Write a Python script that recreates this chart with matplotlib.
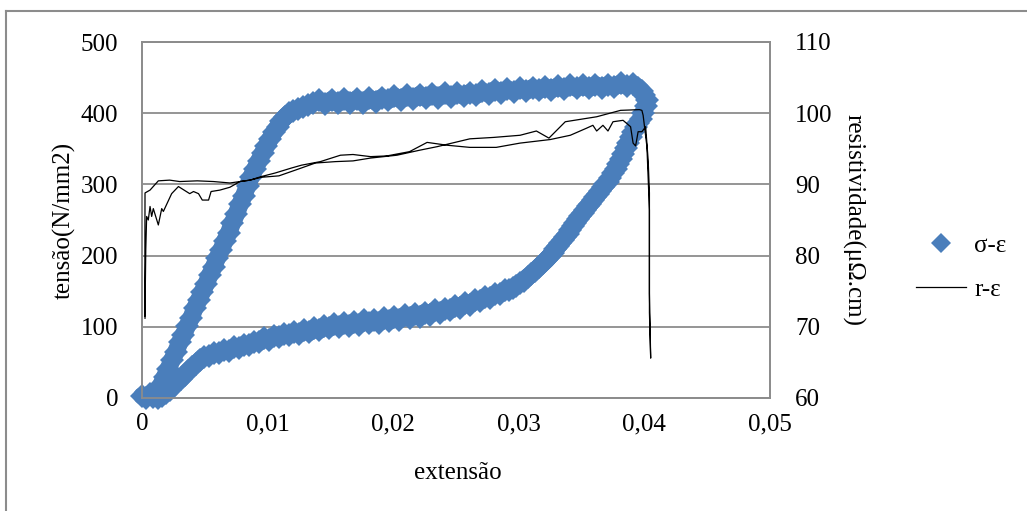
import matplotlib
matplotlib.use('Agg')
import matplotlib.pyplot as plt
from matplotlib.lines import Line2D
from matplotlib.ticker import FuncFormatter, MultipleLocator

plt.rcParams['font.family'] = ['Liberation Serif', 'DejaVu Serif']
plt.rcParams['font.size'] = 18

########################### dados: σ-ε (carga)
carga_x = [0.0000, 0.0003, 0.0006, 0.0009, 0.0012, 0.0015, 0.0018, 0.0021, 0.0024, 0.0027,
           0.0030, 0.0033, 0.0036, 0.0039, 0.0042, 0.0045, 0.0048, 0.0051, 0.0054, 0.0057,
           0.0060, 0.0063, 0.0066, 0.0069, 0.0072, 0.0075, 0.0078, 0.0081, 0.0084, 0.0087,
           0.0090, 0.0093, 0.0096, 0.0099, 0.0102, 0.0105, 0.0108, 0.0111, 0.0114, 0.0117,
           0.0120, 0.0124, 0.0128, 0.0132,
           0.0136, 0.0141, 0.0146, 0.0151, 0.0156, 0.0161, 0.0166, 0.0171, 0.0176, 0.0181,
           0.0186, 0.0191, 0.0196, 0.0201, 0.0206, 0.0211, 0.0216, 0.0221, 0.0226, 0.0231,
           0.0236, 0.0241, 0.0246, 0.0251, 0.0256, 0.0261, 0.0266, 0.0271, 0.0276, 0.0281,
           0.0286, 0.0291, 0.0296, 0.0301, 0.0306, 0.0311, 0.0316, 0.0321, 0.0326, 0.0331,
           0.0336, 0.0341, 0.0346, 0.0351, 0.0356, 0.0361, 0.0366, 0.0371, 0.0376, 0.0381,
           0.0386, 0.0391, 0.0395, 0.0398, 0.0400, 0.0402]
carga_s = [3, 0, 5, 2, 9, 18, 30, 41, 54, 65,
           78, 89, 101, 112, 126, 137, 149, 160, 173, 184,
           197, 208, 221, 232, 246, 258, 272, 284, 298, 311,
           322, 333, 344, 354, 364, 373, 381, 389, 395, 400,
           403, 406, 409, 411,
           414, 418, 413, 419, 414, 420, 415, 420, 415, 421,
           416, 422, 418, 424, 419, 425, 420, 426, 421, 427,
           422, 428, 423, 428, 424, 429, 425, 431, 427, 433,
           429, 434, 430, 435, 431, 436, 432, 437, 433, 438,
           434, 439, 435, 439, 435, 440, 436, 440, 437, 442,
           438, 441, 436, 431, 425, 418]

########################### dados: σ-ε (descarga)
descarga_x = [0.0401, 0.0399, 0.0397, 0.0395, 0.0393, 0.0391, 0.0389, 0.0387, 0.0385, 0.0383,
              0.0381, 0.0379, 0.0377, 0.0375, 0.0373, 0.0371, 0.0369, 0.0367, 0.0365, 0.0363,
              0.0361, 0.0359, 0.0357, 0.0355, 0.0353, 0.0351, 0.0349, 0.0347, 0.0345, 0.0343,
              0.0341, 0.0339, 0.0337, 0.0335, 0.0333, 0.0331, 0.0329, 0.0327, 0.0325, 0.0322,
              0.0319, 0.0316, 0.0313, 0.0310, 0.0307, 0.0304, 0.0301, 0.0298, 0.0295, 0.0292,
              0.0289, 0.0285, 0.0281, 0.0277, 0.0273, 0.0269, 0.0265, 0.0261, 0.0257, 0.0253,
              0.0249, 0.0245, 0.0241, 0.0237, 0.0233, 0.0229, 0.0225, 0.0221, 0.0217, 0.0213,
              0.0209, 0.0205, 0.0201, 0.0197, 0.0193, 0.0189, 0.0185, 0.0181, 0.0177, 0.0173,
              0.0169, 0.0165, 0.0161, 0.0157, 0.0153, 0.0149, 0.0145, 0.0141, 0.0137, 0.0133,
              0.0129, 0.0125, 0.0121, 0.0117, 0.0113, 0.0109, 0.0105, 0.0101, 0.0097, 0.0093,
              0.0089, 0.0085, 0.0081, 0.0077, 0.0073, 0.0069, 0.0065, 0.0061, 0.0057, 0.0053,
              0.0049, 0.0046, 0.0043, 0.0040, 0.0037, 0.0034, 0.0031, 0.0028, 0.0025, 0.0022,
              0.0019, 0.0016, 0.0013]
descarga_s = [410, 400, 392, 386, 380, 373, 366, 358, 351, 342,
              335, 328, 321, 316, 309, 304, 300, 296, 291, 287,
              282, 278, 273, 269, 264, 260, 255, 251, 246, 241,
              236, 231, 226, 222, 217, 213, 209, 204, 200, 194,
              189, 184, 179, 174, 170, 165, 162, 158, 155, 152,
              151, 146, 146, 141, 142, 136, 137, 131, 133, 127,
              129, 123, 125, 120, 123, 117, 120, 114, 118, 112,
              116, 110, 114, 108, 112, 106, 110, 105, 109, 103,
              107, 101, 105, 100, 104, 98, 101, 95, 98, 92,
              95, 90, 93, 88, 90, 85, 87, 82, 84, 78,
              79, 74, 75, 70, 71, 66, 67, 63, 63, 59,
              58, 53, 48, 43, 38, 33, 27, 22, 17, 11,
              7, 3, 0]

########################### dados: r-ε (ida e volta)
r_x = [0.00024, 0.00026, 0.00030, 0.00037, 0.00050, 0.00064, 0.00077, 0.00090, 0.00130, 0.00157,
       0.00170, 0.00236, 0.00290, 0.00380, 0.00410, 0.00450, 0.00480, 0.00530, 0.00550, 0.00620,
       0.00700, 0.00780, 0.00860, 0.0095, 0.0109, 0.0122, 0.0138, 0.0154, 0.0168, 0.0182,
       0.0203, 0.0221, 0.0235, 0.0261, 0.0280, 0.0301, 0.0314, 0.0324, 0.0337, 0.0362,
       0.0381, 0.0396, 0.0398, 0.0399, 0.0402, 0.0404, 0.0404, 0.0405,
       0.0404, 0.0404, 0.0404, 0.0403, 0.0401, 0.0398, 0.0395, 0.0393, 0.0391, 0.0389,
       0.0383, 0.0375, 0.0371, 0.0367, 0.0362, 0.0359, 0.0354, 0.0341, 0.0325, 0.0301,
       0.0282, 0.0261, 0.0243, 0.0227, 0.0213, 0.0195, 0.0182, 0.0168, 0.0158, 0.0142,
       0.0127, 0.0119, 0.0106, 0.0095, 0.0086, 0.0078, 0.0070, 0.0057, 0.0044, 0.0030,
       0.0022, 0.0013, 0.00064, 0.00024, 0.00022]
r_v = [71.2, 75.0, 80.8, 85.5, 85.0, 86.9, 85.5, 86.6, 84.3, 86.6,
       86.2, 88.7, 89.7, 88.7, 89.0, 88.7, 87.8, 87.8, 89.0, 89.2,
       89.6, 90.4, 90.6, 91.0, 91.2, 92.0, 93.0, 93.2, 93.3, 93.7,
       94.1, 94.8, 95.3, 96.4, 96.6, 96.9, 97.5, 96.5, 98.8, 99.5,
       100.4, 100.5, 100.4, 99.7, 95.3, 86.4, 74.7, 65.6,
       72.0, 81.2, 88.8, 93.4, 98.1, 97.4, 97.4, 95.4, 95.8, 98.1,
       99.0, 98.8, 97.5, 98.3, 97.5, 98.3, 97.9, 96.9, 96.3, 95.8,
       95.2, 95.2, 95.5, 95.9, 94.6, 94.0, 93.9, 94.2, 94.1, 93.2,
       92.7, 92.3, 91.6, 91.1, 90.6, 90.4, 90.2, 90.4, 90.5, 90.4,
       90.6, 90.5, 89.2, 88.8, 71.5]

x_ticks = [0, 0.01, 0.02, 0.03, 0.04, 0.05]
azul = '#4a7ebb'
cinza = '#8c8c8c'

########################### figura
fig = plt.figure(figsize=(10.27, 5.11), dpi=100)
ax = fig.add_axes([142/1027, 1-398/511, 628/1027, 356/511])
ax2 = ax.twinx()

sx = carga_x + descarga_x
sy = carga_s + descarga_s
# faixa grossa por baixo para preencher os vãos entre marcadores
ax.plot(sx, sy, color=azul, lw=12.5, solid_joinstyle='round', solid_capstyle='round',
        zorder=2, clip_on=False)
ax.plot(sx, sy, ls='none', marker='D', ms=12, mfc=azul, mec=azul, mew=0, zorder=3, clip_on=False)
ax2.plot(r_x, r_v, color='black', lw=0.9, zorder=4)

ax.set_xlim(0, 0.05)
ax.set_ylim(0, 500)
ax2.set_ylim(60, 110)
ax.set_xticks(x_ticks)
ax.yaxis.set_major_locator(MultipleLocator(100))
ax2.yaxis.set_major_locator(MultipleLocator(10))
ax.xaxis.set_major_formatter(FuncFormatter(lambda v, p: '0' if v == 0 else ('%.2f' % v).replace('.', ',')))

ax.set_axisbelow(True)
ax.grid(axis='y', color=cinza, lw=1.3)
for a in (ax, ax2):
    for s in a.spines.values():
        s.set_color(cinza)
        s.set_linewidth(1.3)
ax.tick_params(axis='y', length=0, pad=17, labelsize=18)
ax.tick_params(axis='x', length=0, pad=11, labelsize=18)
ax2.tick_params(axis='y', length=0, pad=18, labelsize=18)

ax.set_xlabel('extensão', fontsize=18, va='center')
ax.xaxis.set_label_coords(0.503, -0.21)
ax.set_ylabel('tensão(N/mm2)', fontsize=18, va='center')
ax.yaxis.set_label_coords(-0.124, 0.5)
ax2.set_ylabel('resistividade(μΩ.cm)', fontsize=18, rotation=270, va='center')
ax2.yaxis.set_label_coords(1.132, 0.5)

# legenda
h1 = Line2D([], [], ls='none', marker='D', ms=10, mfc=azul, mec=azul, mew=0)
h2 = Line2D([], [], color='black', lw=0.9)
fig.legend([h1, h2], ['σ-ε', 'r-ε'], loc='upper left',
           bbox_to_anchor=(903/1027, 1-222/511), frameon=False, fontsize=18,
           borderpad=0, handlelength=2.0, handletextpad=0.35, labelspacing=0.85)

# moldura externa
fig.add_artist(Line2D([6/1027, 6/1027], [0, 1-11/511], color=cinza, lw=1.5))
fig.add_artist(Line2D([6/1027, 1], [1-11/511, 1-11/511], color=cinza, lw=1.5))

plt.savefig('out.png', dpi=100)
plt.close()
